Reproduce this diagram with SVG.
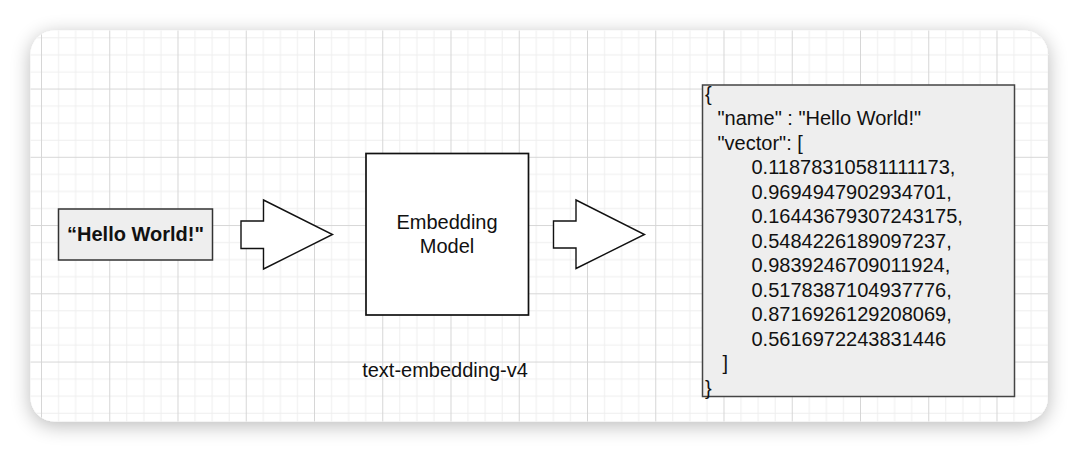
<svg xmlns="http://www.w3.org/2000/svg" width="1080" height="452" viewBox="0 0 1080 452">
  <style>
    text { font-family: "Liberation Sans", Arial, sans-serif; fill: #111111; }
    .lbl { font-size: 20px; }
    .bold { font-size: 20px; font-weight: bold; }
    .arrow { fill: #ffffff; stroke: #111111; stroke-width: 1.4; stroke-linejoin: miter; }
  </style>
  <defs>
    <filter id="shadow" x="-5%" y="-15%" width="110%" height="130%">
      <feGaussianBlur in="SourceAlpha" stdDeviation="10"/>
      <feOffset dx="0" dy="4" result="b"/>
      <feComponentTransfer>
        <feFuncA type="linear" slope="0.28"/>
      </feComponentTransfer>
      <feMerge>
        <feMergeNode/>
        <feMergeNode in="SourceGraphic"/>
      </feMerge>
    </filter>
    <pattern id="grid" patternUnits="userSpaceOnUse" x="41" y="20.3" width="68.25" height="68.25">
      <path d="M17.56 0V68.25M34.63 0V68.25M51.69 0V68.25M0 17.56H68.25M0 34.63H68.25M0 51.69H68.25" stroke="#eeeeee" stroke-width="1" fill="none"/>
      <path d="M0.5 0V68.25M0 0.5H68.25" stroke="#d6d6d6" stroke-width="1" fill="none"/>
    </pattern>
  </defs>

  <rect width="1080" height="452" fill="#ffffff"/>

  <g id="card">
    <rect x="30.5" y="30.5" width="1017.5" height="391" rx="24" fill="#ffffff" filter="url(#shadow)"/>
    <rect x="30.5" y="30.5" width="1017.5" height="391" rx="24" fill="url(#grid)"/>
  </g>

  <g id="input">
    <rect x="58.5" y="209" width="154" height="51" fill="#eeeeee" stroke="#333333" stroke-width="1.5"/>
    <text class="bold" x="135.5" y="241" text-anchor="middle">“Hello World!"</text>
  </g>

  <g id="model">
    <rect x="366" y="153.5" width="162.5" height="161.5" fill="#ffffff" stroke="#111111" stroke-width="1.7"/>
    <text class="lbl" x="447" y="228.5" text-anchor="middle">Embedding</text>
    <text class="lbl" x="447" y="252.5" text-anchor="middle">Model</text>
    <text class="lbl" x="445" y="377" text-anchor="middle">text-embedding-v4</text>
  </g>

  <g id="output">
    <rect x="702.5" y="85" width="312" height="311.5" fill="#eeeeee" stroke="#444444" stroke-width="1.5"/>
    <text class="lbl">
      <tspan x="705" y="100.5">{</tspan>
      <tspan x="717.5" y="125">"name" : "Hello World!"</tspan>
      <tspan x="717.5" y="149.5">"vector": [</tspan>
      <tspan x="751.5" y="174">0.11878310581111173,</tspan>
      <tspan x="751.5" y="198.5">0.9694947902934701,</tspan>
      <tspan x="751.5" y="223">0.16443679307243175,</tspan>
      <tspan x="751.5" y="247.5">0.5484226189097237,</tspan>
      <tspan x="751.5" y="272">0.9839246709011924,</tspan>
      <tspan x="751.5" y="296.5">0.5178387104937776,</tspan>
      <tspan x="751.5" y="321">0.8716926129208069,</tspan>
      <tspan x="751.5" y="345.5">0.5616972243831446</tspan>
      <tspan x="722.5" y="370">]</tspan>
      <tspan x="705" y="394.5">}</tspan>
    </text>
  </g>

  <g id="connectors">
    <polygon class="arrow" points="241,221 263.5,221 263.5,200 332.5,234.5 263.5,269 263.5,248.5 241,248.5"/>
    <polygon class="arrow" points="553.5,221 576,221 576,200 644.5,234.5 576,268.5 576,248 553.5,248"/>
  </g>
</svg>
